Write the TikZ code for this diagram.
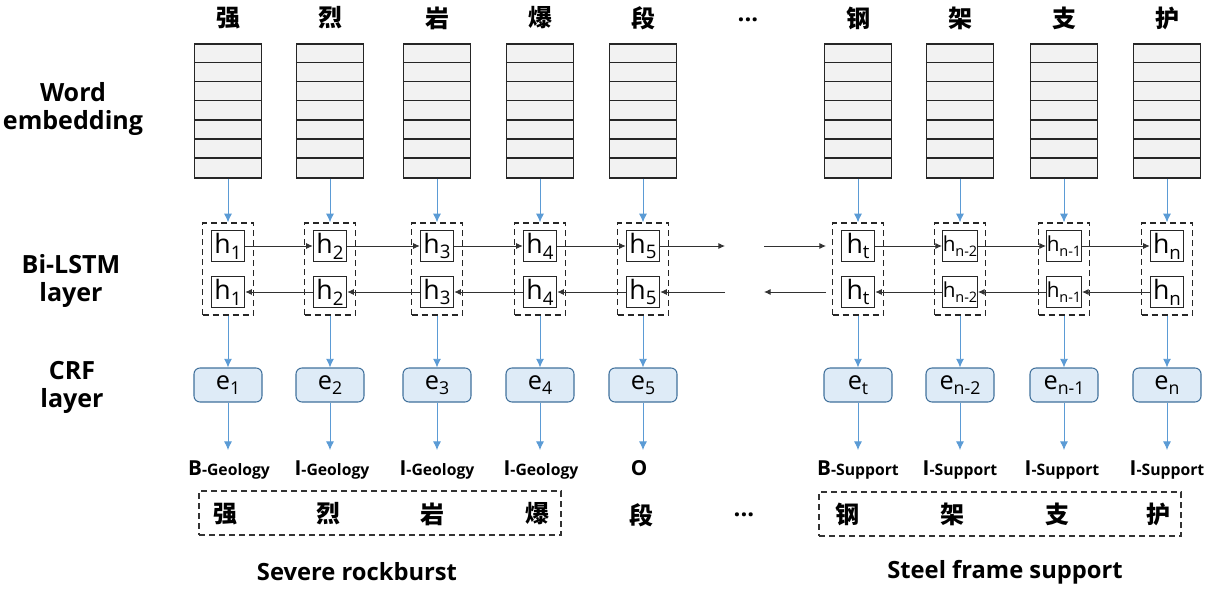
\documentclass[tikz,border=0pt]{standalone}
\usepackage{fontspec}
\setmainfont{Open Sans}
\newfontfamily\cjk{Noto Sans CJK SC}
\usetikzlibrary{arrows.meta}
\definecolor{embfill}{RGB}{242,242,242}
\definecolor{crffill}{RGB}{222,235,247}
\definecolor{crfline}{RGB}{65,113,156}
\definecolor{flow}{RGB}{91,155,213}
\definecolor{link}{RGB}{50,50,50}
% lowered, reduced index after a letter
\newcommand{\lsub}[1]{\raisebox{-0.22em}{\scalebox{0.7}{#1}}}
% BIO tag: large prefix letter, smaller entity type
\newcommand{\biotag}[2]{{\fontsize{15.5}{18}\selectfont\bfseries #1}{\fontsize{11.8}{14}\selectfont\bfseries -#2}}
\begin{document}
\begin{tikzpicture}[x=0.75pt,y=-0.75pt,
  emb/.style={draw=black!85, fill=embfill, line width=1.1pt, minimum width=50.25pt, minimum height=100.5pt, inner sep=0},
  cell/.style={draw=black!85, dash pattern=on 4.5pt off 3pt, line width=1pt, minimum width=38.25pt, minimum height=69pt, inner sep=0},
  hid/.style={draw=black!85, line width=1.1pt, minimum width=24.75pt, minimum height=23.25pt, inner sep=0},
  crf/.style={draw=crfline, fill=crffill, rounded corners=4.5pt, line width=0.8pt, minimum width=51pt, minimum height=25.5pt, inner sep=0, font=\fontsize{19}{21}\selectfont},
  tagl/.style={inner xsep=0, inner ysep=7.75pt, text height=11pt, text depth=3pt},
  hanzi/.style={font={\cjk\bfseries\fontsize{18}{21}\selectfont}},
  axis/.style={font={\bfseries\fontsize{18.8}{21}\selectfont}, align=center},
  title/.style={font={\bfseries\fontsize{17.8}{21}\selectfont}},
  flowarrow/.style={draw=flow, line width=0.7pt, -{Latex[length=6.5pt,width=6pt]}},
  linkarrow/.style={draw=link, line width=0.65pt, -{Latex[length=5pt,width=4.5pt]}},
  group/.style={draw=black!80, dash pattern=on 4.5pt off 3pt, line width=1pt, minimum width=271.5pt, minimum height=33pt, inner sep=0}
]
\useasboundingbox (0,0) rectangle (1215,589);

% layer names
\node[axis] (lw) at (73,109) {Word\\embedding};
\node[axis] (lb) at (71,281) {Bi-LSTM\\layer};
\node[axis] (lc) at (72,387) {CRF\\layer};

% one column per character
\foreach \i/\x/\ch/\hs/\hf in {1/228/强/1/20, 2/330/烈/2/20, 3/437/岩/3/20, 4/540/爆/4/20, 5/643/段/5/20, 6/858/钢/t/20, 7/960/架/n-2/15.5, 8/1064/支/n-1/15.5, 9/1167/护/n/20}{
  \node[hanzi] (w\i) at (\x,18) {\ch};
  \node[emb] (emb\i) at (\x,111) {};
  \foreach \k in {1,...,6}
    \draw[black!85, line width=1.1pt] ([yshift=-\k*14.357pt]emb\i.north west) -- ([yshift=-\k*14.357pt]emb\i.north east);
  \node[cell] (bl\i) at (\x,269) {};
  \node[hid] (hf\i) at (\x,246) {\fontsize{\hf}{\hf}\selectfont h\lsub{\hs}};
  \node[hid] (hb\i) at (\x,292) {\fontsize{\hf}{\hf}\selectfont h\lsub{\hs}};
  \node[crf] (e\i) at (\x,385) {e\lsub{\hs}};
}
\node[font=\bfseries\fontsize{18}{20}\selectfont] (wdots) at (748,20) {...};

% output tags
\node[tagl] (tag1) at (229,470) {\biotag{B}{Geology}};
\node[tagl] (tag2) at (332,470) {\biotag{I}{Geology}};
\node[tagl] (tag3) at (437,470) {\biotag{I}{Geology}};
\node[tagl] (tag4) at (541,470) {\biotag{I}{Geology}};
\node[tagl, font=\bfseries\fontsize{15.5}{18}\selectfont] (tag5) at (639,470) {O};
\node[tagl] (tag6) at (858,470) {\biotag{B}{Support}};
\node[tagl] (tag7) at (960,470) {\biotag{I}{Support}};
\node[tagl] (tag8) at (1062,470) {\biotag{I}{Support}};
\node[tagl] (tag9) at (1167,470) {\biotag{I}{Support}};

% vertical data flow
\foreach \i in {1,...,9}{
  \draw[flowarrow] (emb\i.south) -- (bl\i.north);
  \draw[flowarrow] (bl\i.south) -- (e\i.north);
  \draw[flowarrow] (e\i.south) -- (e\i.south |- tag\i.north);
}

% forward and backward LSTM chains
\foreach \i/\j in {1/2, 2/3, 3/4, 4/5, 6/7, 7/8, 8/9}{
  \draw[linkarrow] (hf\i.east) -- (hf\j.west);
  \draw[linkarrow] (hb\j.west) -- (hb\i.east);
}
\coordinate (fa) at (725,246);
\coordinate (fb) at (764,246);
\coordinate (fc) at (826,246);
\coordinate (ba) at (725,292);
\coordinate (bb) at (764,292);
\coordinate (bc) at (826,292);
\draw[linkarrow] (hf5.east) -- (fa);
\draw[linkarrow] (fb) -- (fc);
\draw[linkarrow] (bc) -- (bb);
\draw[linkarrow] (ba) -- (hb5.east);

% entity groups
\node[group] (g1) at (380,513) {};
\node[group] (g2) at (1000,514) {};
\node[hanzi] (s1) at (225,514) {强};
\node[hanzi] (s2) at (328,514) {烈};
\node[hanzi] (s3) at (432,514) {岩};
\node[hanzi] (s4) at (537,514) {爆};
\node[hanzi] (s5) at (641,515) {段};
\node[font=\bfseries\fontsize{18}{20}\selectfont] (sdots) at (744,515) {...};
\node[hanzi] (s6) at (847,514) {钢};
\node[hanzi] (s7) at (952,514) {架};
\node[hanzi] (s8) at (1057,514) {支};
\node[hanzi] (s9) at (1158,514) {护};

\node[title] (t1) at (357,572) {Severe rockburst};
\node[title] (t2) at (1005,572) {Steel frame support};
\end{tikzpicture}
\end{document}
